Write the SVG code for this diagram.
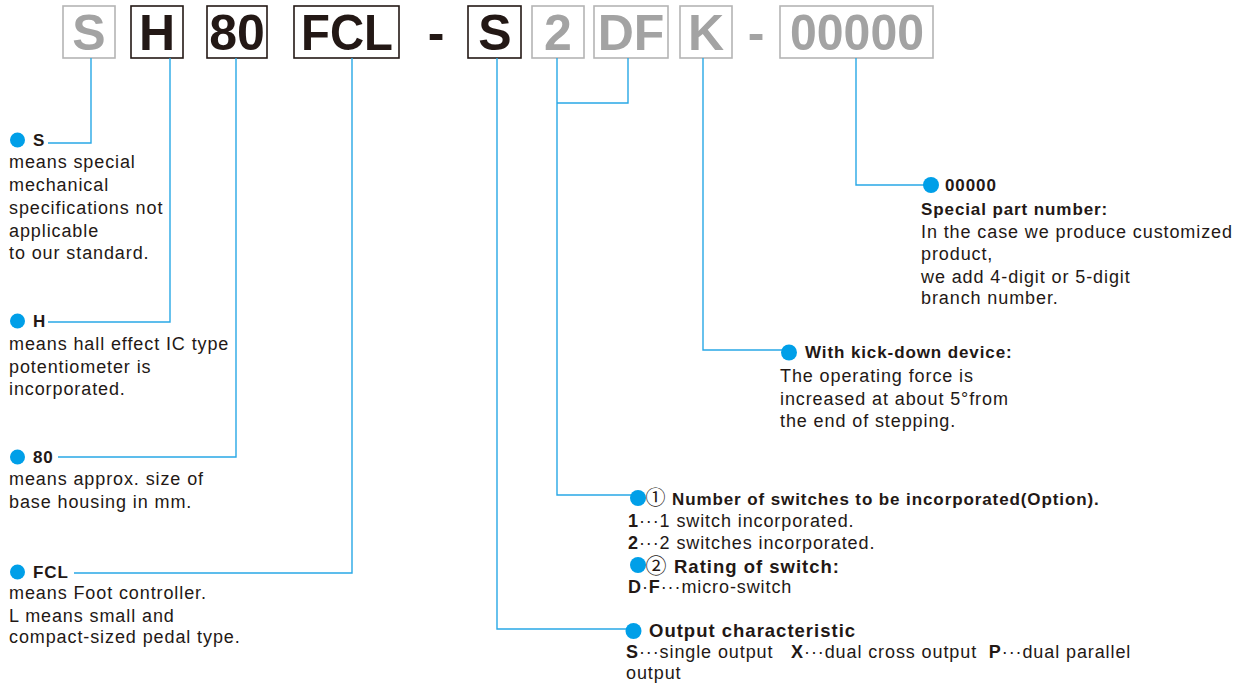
<svg xmlns="http://www.w3.org/2000/svg" width="1251" height="688" viewBox="0 0 1251 688">
<style>
.bg{fill:#ffffff}
.hb{fill:none;stroke:#231815;stroke-width:1.6}
.hg{fill:none;stroke:#b5b5b5;stroke-width:1.6}
.ht{font-family:"Liberation Sans",Arial,sans-serif;font-weight:bold;font-size:50px;text-anchor:middle;fill:#231815}
.htg{font-family:"Liberation Sans",Arial,sans-serif;font-weight:bold;font-size:50px;text-anchor:middle;fill:#a3a3a3}
.con{fill:none;stroke:#29a8e6;stroke-width:1.4}
.dot{fill:#009fe8}
.t{font-family:"Liberation Sans","Noto Sans CJK JP",sans-serif;font-size:18px;letter-spacing:0.9px;fill:#231815}
.b{font-family:"Liberation Sans","Noto Sans CJK JP",sans-serif;font-size:17px;font-weight:bold;letter-spacing:0.9px;fill:#231815}
.bl{font-family:"Liberation Sans","Noto Sans CJK JP",sans-serif;font-size:18.5px;font-weight:bold;letter-spacing:1px;fill:#231815}
.c{font-family:"Noto Sans CJK JP","DejaVu Sans",sans-serif;fill:#231815}
.k{font-weight:bold}
</style>
<rect class="bg" x="0" y="0" width="1251" height="688"/>

<g id="header">
  <g id="code-S1"><rect class="hg" x="63" y="6" width="52" height="52"/><text class="htg" x="89" y="50">S</text></g>
  <g id="code-H"><rect class="hb" x="131" y="6" width="52" height="52"/><text class="ht" x="157" y="50">H</text></g>
  <g id="code-80"><rect class="hb" x="207" y="6" width="60" height="52"/><text class="ht" x="237" y="50">80</text></g>
  <g id="code-FCL"><rect class="hb" x="294" y="6" width="105" height="52"/><text class="ht" x="347" y="50" textLength="92" lengthAdjust="spacingAndGlyphs">FCL</text></g>
  <text class="ht" x="436" y="50">-</text>
  <g id="code-S2"><rect class="hb" x="468" y="6" width="53" height="52"/><text class="ht" x="495" y="50">S</text></g>
  <g id="code-2"><rect class="hg" x="532" y="6" width="52" height="52"/><text class="htg" x="558" y="50">2</text></g>
  <g id="code-DF"><rect class="hg" x="594" y="6" width="74" height="52"/><text class="htg" x="631" y="50">DF</text></g>
  <g id="code-K"><rect class="hg" x="680" y="6" width="52" height="52"/><text class="htg" x="706" y="50">K</text></g>
  <text class="htg" x="756" y="50">-</text>
  <g id="code-00000"><rect class="hg" x="780" y="6" width="153" height="52"/><text class="htg" x="857" y="50" textLength="134" lengthAdjust="spacingAndGlyphs">00000</text></g>
</g>

<g id="connectors">
  <path class="con" d="M91 58 V143 H48"/>
  <path class="con" d="M170 58 V322 H48"/>
  <path class="con" d="M236 58 V457 H58"/>
  <path class="con" d="M352 58 V573 H74"/>
  <path class="con" d="M497 58 V629 H628"/>
  <path class="con" d="M557 58 V495 H631"/>
  <path class="con" d="M628 58 V103 H557"/>
  <path class="con" d="M703 58 V350 H782"/>
  <path class="con" d="M856 58 V185 H924"/>
</g>

<g id="note-S">
  <circle class="dot" cx="17.5" cy="140" r="7.5"/>
  <text class="b" x="33" y="146">S</text>
  <text class="t" x="9" y="168">means special</text>
  <text class="t" x="9" y="191">mechanical</text>
  <text class="t" x="9" y="214">specifications not</text>
  <text class="t" x="9" y="237">applicable</text>
  <text class="t" x="9" y="259">to our standard.</text>
</g>

<g id="note-H">
  <circle class="dot" cx="17.5" cy="321" r="7.5"/>
  <text class="b" x="33" y="327">H</text>
  <text class="t" x="9" y="350">means hall effect IC type</text>
  <text class="t" x="9" y="373">potentiometer is</text>
  <text class="t" x="9" y="395">incorporated.</text>
</g>

<g id="note-80">
  <circle class="dot" cx="17.5" cy="457" r="7.5"/>
  <text class="b" x="33" y="463">80</text>
  <text class="t" x="9" y="485">means approx. size of</text>
  <text class="t" x="9" y="508">base housing in mm.</text>
</g>

<g id="note-FCL">
  <circle class="dot" cx="17.5" cy="572" r="7.5"/>
  <text class="b" x="33" y="578">FCL</text>
  <text class="t" x="9" y="599">means Foot controller.</text>
  <text class="t" x="9" y="622">L means small and</text>
  <text class="t" x="9" y="643">compact-sized pedal type.</text>
</g>

<g id="note-00000">
  <circle class="dot" cx="931" cy="185" r="8"/>
  <text class="b" x="945" y="191">00000</text>
  <text class="b" x="921" y="215">Special part number:</text>
  <text class="t" x="921" y="238">In the case we produce customized</text>
  <text class="t" x="921" y="260">product,</text>
  <text class="t" x="921" y="283">we add 4-digit or 5-digit</text>
  <text class="t" x="921" y="304">branch number.</text>
</g>

<g id="note-K">
  <circle class="dot" cx="789" cy="352.5" r="8"/>
  <text class="b" x="805" y="358">With kick-down device:</text>
  <text class="t" x="780" y="382">The operating force is</text>
  <text class="t" x="780" y="405">increased at about 5°from</text>
  <text class="t" x="780" y="427">the end of stepping.</text>
</g>

<g id="note-2DF">
  <circle class="dot" cx="638" cy="498" r="8"/>
  <text class="c" x="645.5" y="505" font-size="20">①</text>
  <text class="b" x="672" y="505">Number of switches to be incorporated(Option).</text>
  <text class="t" x="628" y="527"><tspan class="k">1</tspan>···1 switch incorporated.</text>
  <text class="t" x="628" y="549"><tspan class="k">2</tspan>···2 switches incorporated.</text>
  <circle class="dot" cx="638" cy="565" r="8"/>
  <text class="c" x="645.5" y="572.5" font-size="21">②</text>
  <text class="bl" x="674" y="573">Rating of switch:</text>
  <text class="t" x="628" y="593"><tspan class="k">D</tspan>·<tspan class="k">F</tspan>···micro-switch</text>
</g>

<g id="note-output">
  <circle class="dot" cx="633.5" cy="631" r="8"/>
  <text class="bl" x="649" y="637">Output characteristic</text>
  <text class="t" x="626" y="658" xml:space="preserve"><tspan class="k">S</tspan>···single output   <tspan class="k">X</tspan>···dual cross output  <tspan class="k">P</tspan>···dual parallel</text>
  <text class="t" x="626" y="679">output</text>
</g>
</svg>
